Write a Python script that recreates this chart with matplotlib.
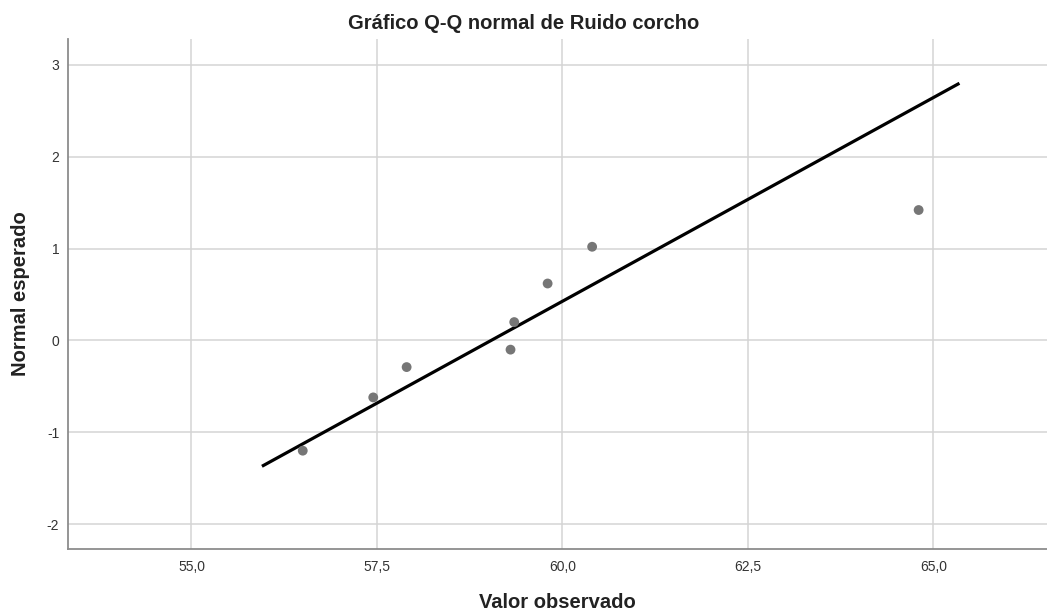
import matplotlib
matplotlib.use("Agg")
import matplotlib.pyplot as plt
from matplotlib.ticker import FuncFormatter

observed = [56.50, 57.45, 57.90, 59.30, 59.35, 59.80, 60.40, 64.80]
expected = [-1.20, -0.62, -0.29, -0.10, 0.20, 0.62, 1.02, 1.42]

# Reference line end points
line_x = [55.95, 65.35]
line_y = [-1.37, 2.80]

x_ticks = [55.0, 57.5, 60.0, 62.5, 65.0]
y_ticks = [-2, -1, 0, 1, 2, 3]

plt.rcParams['font.family'] = ['Liberation Sans', 'DejaVu Sans']

fig = plt.figure(figsize=(10.47, 6.12), dpi=100)
ax = fig.add_axes([0.0645, 0.103, 0.9355, 0.833])

ax.plot(line_x, line_y, color='black', linewidth=2.3, solid_capstyle='butt', zorder=3)
ax.scatter(observed, expected, s=50, color='#767676', edgecolors='none', zorder=4)

ax.set_xlim(53.33, 66.53)
ax.set_ylim(-2.27, 3.28)
ax.set_xticks(x_ticks)
ax.set_yticks(y_ticks)
ax.xaxis.set_major_formatter(FuncFormatter(lambda v, p: f"{v:.1f}".replace('.', ',')))
ax.yaxis.set_major_formatter(FuncFormatter(lambda v, p: f"{v:.0f}"))
ax.tick_params(axis='x', length=0, labelsize=10, colors='#333333', pad=8)
ax.tick_params(axis='y', length=0, labelsize=10, colors='#333333', pad=6)

ax.grid(True, color='#d4d4d4', linewidth=1.1)
ax.set_axisbelow(True)
for side in ['top', 'right']:
    ax.spines[side].set_visible(False)
for side in ['left', 'bottom']:
    ax.spines[side].set_color('#8c8c8c')
    ax.spines[side].set_linewidth(1.3)

# title centred on the figure, axis labels centred on the plot area
fig.text(0.5, 0.953, 'Gráfico Q-Q normal de Ruido corcho', fontsize=14.5,
         fontweight='bold', color='#222222', ha='center', va='baseline')
fig.text(0.532, 0.007, 'Valor observado', fontsize=14.5, fontweight='bold',
         color='#222222', ha='center', va='baseline')
fig.text(0.020, 0.52, 'Normal esperado', fontsize=14.5, fontweight='bold',
         color='#222222', ha='center', va='center', rotation=90)

fig.savefig('out.png', dpi=100)
